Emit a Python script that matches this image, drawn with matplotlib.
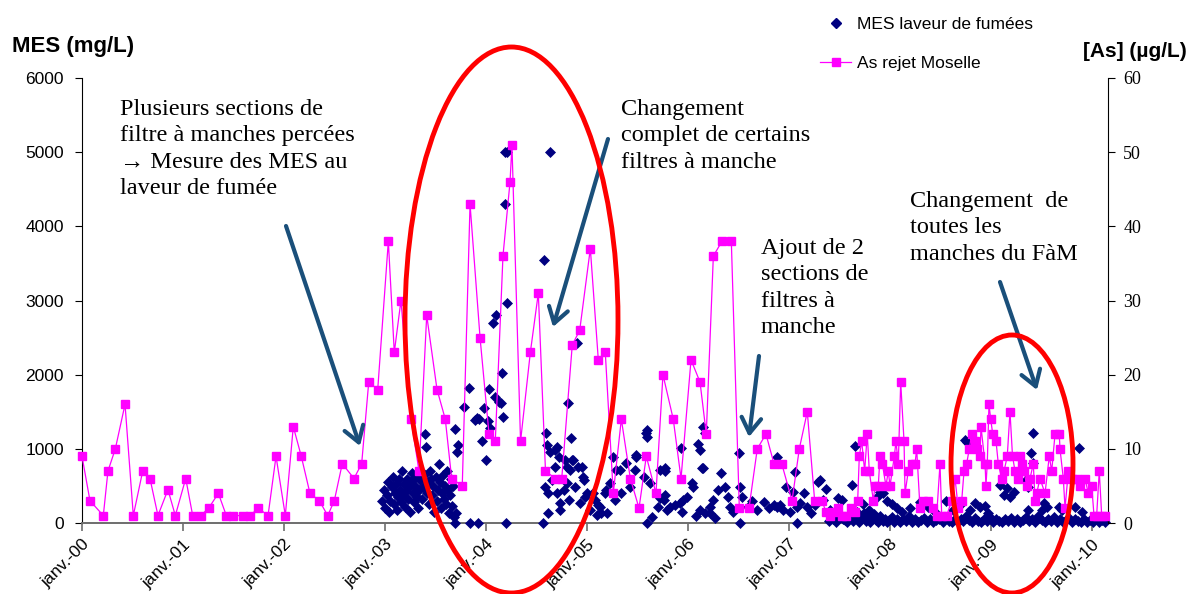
import matplotlib
matplotlib.use('Agg')
import matplotlib.pyplot as plt
from matplotlib.lines import Line2D
from matplotlib.patches import Ellipse, FancyArrowPatch

# ---------------- data ----------------
# As rejet Moselle (µg/L), secondary axis
as_year = [2000.000, 2000.079, 2000.211, 2000.257, 2000.330, 2000.426, 2000.508, 2000.601, 2000.673, 2000.752,
           2000.851, 2000.924, 2001.027, 2001.096, 2001.175, 2001.254, 2001.350, 2001.429, 2001.498, 2001.597,
           2001.663, 2001.746, 2001.842, 2001.921, 2002.013, 2002.092, 2002.171, 2002.257, 2002.350, 2002.433,
           2002.498, 2002.577, 2002.693, 2002.769, 2002.839, 2002.928, 2003.033, 2003.092, 2003.158, 2003.257,
           2003.337, 2003.413, 2003.515, 2003.597, 2003.660, 2003.765, 2003.842, 2003.941, 2004.030, 2004.092,
           2004.168, 2004.238, 2004.257, 2004.342, 2004.439, 2004.518, 2004.589, 2004.686, 2004.750, 2004.854,
           2004.928, 2005.033, 2005.112, 2005.181, 2005.260, 2005.340, 2005.429, 2005.515, 2005.587, 2005.683,
           2005.752, 2005.854, 2005.931, 2006.030, 2006.119, 2006.181, 2006.251, 2006.337, 2006.429, 2006.508,
           2006.604, 2006.686, 2006.772, 2006.851, 2006.928, 2007.030, 2007.102, 2007.181, 2007.254, 2007.327,
           2007.366, 2007.406, 2007.446, 2007.485, 2007.525, 2007.564, 2007.614, 2007.653, 2007.680, 2007.696,
           2007.720, 2007.749, 2007.775, 2007.795, 2007.835, 2007.851, 2007.884, 2007.901, 2007.924, 2007.960,
           2007.983, 2008.000, 2008.043, 2008.059, 2008.082, 2008.106, 2008.139, 2008.149, 2008.181, 2008.215,
           2008.248, 2008.264, 2008.297, 2008.330, 2008.380, 2008.429, 2008.462, 2008.495, 2008.512, 2008.561,
           2008.611, 2008.644, 2008.676, 2008.710, 2008.733, 2008.759, 2008.785, 2008.809, 2008.842, 2008.864,
           2008.891, 2008.901, 2008.941, 2008.950, 2008.963, 2008.980, 2008.997, 2009.017, 2009.050, 2009.072,
           2009.106, 2009.129, 2009.161, 2009.188, 2009.213, 2009.238, 2009.270, 2009.287, 2009.307, 2009.327,
           2009.353, 2009.386, 2009.419, 2009.436, 2009.452, 2009.485, 2009.535, 2009.577, 2009.601, 2009.634,
           2009.676, 2009.683, 2009.716, 2009.733, 2009.766, 2009.799, 2009.848, 2009.881, 2009.931, 2009.963,
           2009.997, 2010.020, 2010.046, 2010.072, 2010.096, 2010.129]
as_val = [9, 3, 1, 7, 10, 16, 1, 7, 6, 1,
          4.5, 1, 6, 1, 1, 2, 4, 1, 1, 1,
          1, 2, 1, 9, 1, 13, 9, 4, 3, 1,
          3, 8, 6, 8, 19, 18, 38, 23, 30, 14,
          7, 28, 18, 14, 6, 5, 43, 25, 12, 11,
          36, 46, 51, 11, 23, 31, 7, 6, 6, 24,
          26, 37, 22, 23, 4, 14, 6, 2, 9, 4,
          20, 14, 6, 22, 19, 12, 36, 38, 38, 2,
          2, 10, 12, 8, 8, 3, 10, 15, 3, 3,
          1.5, 1, 1.5, 2, 1, 1, 2, 1.5, 3, 9,
          11, 7, 12, 7, 3, 5, 5, 9, 8, 5,
          7, 5, 9, 11, 8, 19, 11, 4, 7, 8,
          8, 10, 2, 3, 3, 2, 1, 8, 1, 1,
          3, 6, 2, 3, 7, 8, 10, 12, 11, 10,
          9, 13, 8, 5, 8, 16, 14, 12, 11, 8,
          6, 7, 9, 15, 9, 7, 6, 9, 8, 7,
          5, 6, 8, 3, 4, 6, 4, 9, 7, 12,
          12, 10, 6, 2, 7, 6, 6, 5, 6, 4,
          5, 1, 1, 7, 1, 1]

# MES laveur de fumées (mg/L), primary axis
mes_year = [
    # 2003 cluster
    2002.97, 2002.99, 2003.00, 2003.02, 2003.03, 2003.04, 2003.05, 2003.07, 2003.08, 2003.09,
    2003.10, 2003.11, 2003.12, 2003.13, 2003.14, 2003.15, 2003.16, 2003.17, 2003.18, 2003.19,
    2003.20, 2003.21, 2003.22, 2003.23, 2003.24, 2003.25, 2003.26, 2003.27, 2003.28, 2003.29,
    2003.30, 2003.31, 2003.32, 2003.33, 2003.34, 2003.35, 2003.36, 2003.37, 2003.38, 2003.39,
    2003.40, 2003.41, 2003.42, 2003.43, 2003.44, 2003.45, 2003.46, 2003.47, 2003.48, 2003.49,
    2003.50, 2003.51, 2003.52, 2003.53, 2003.54, 2003.55, 2003.56, 2003.57, 2003.58, 2003.59,
    2003.60, 2003.61, 2003.62, 2003.63, 2003.64, 2003.65, 2003.66, 2003.67, 2003.68,
    # 2003.7 - 2004.2
    2003.69, 2003.69, 2003.70, 2003.71, 2003.72, 2003.78, 2003.83, 2003.84, 2003.89, 2003.91,
    2003.92, 2003.93, 2003.96, 2003.98, 2004.00, 2004.02, 2004.03, 2004.04, 2004.07, 2004.09,
    2004.10, 2004.13, 2004.15, 2004.16, 2004.17, 2004.19, 2004.19, 2004.20, 2004.21, 2004.21,
    # 2004.56 - 2005.8
    2004.56, 2004.57, 2004.58, 2004.59, 2004.60, 2004.61, 2004.61, 2004.63, 2004.63, 2004.65,
    2004.68, 2004.68, 2004.70, 2004.70, 2004.72, 2004.73, 2004.73, 2004.77, 2004.78, 2004.80,
    2004.80, 2004.81, 2004.82, 2004.83, 2004.84, 2004.85, 2004.86, 2004.88, 2004.90, 2004.91,
    2004.93, 2004.95, 2004.96, 2004.97, 2004.98, 2005.00, 2005.03, 2005.06, 2005.08, 2005.10,
    2005.11, 2005.13, 2005.14, 2005.18, 2005.19, 2005.20, 2005.23, 2005.26, 2005.28, 2005.29,
    2005.33, 2005.34, 2005.39, 2005.43, 2005.48, 2005.49, 2005.49, 2005.56, 2005.58, 2005.59,
    2005.59, 2005.59, 2005.62, 2005.64, 2005.70, 2005.72, 2005.72, 2005.76, 2005.77, 2005.77,
    2005.77, 2005.79,
    # 2005.8 - 2006.95
    2005.82, 2005.87, 2005.92, 2005.93, 2005.94, 2005.95, 2005.99, 2006.04, 2006.05, 2006.08,
    2006.10, 2006.12, 2006.12, 2006.14, 2006.15, 2006.15, 2006.17, 2006.17, 2006.22, 2006.22,
    2006.25, 2006.27, 2006.30, 2006.33, 2006.37, 2006.40, 2006.42, 2006.45, 2006.50, 2006.51,
    2006.51, 2006.53, 2006.59, 2006.63, 2006.68, 2006.75, 2006.80, 2006.85, 2006.88, 2006.88,
    2006.91,
    # 2007
    2006.94, 2006.97, 2007.01, 2007.04, 2007.06, 2007.08, 2007.08, 2007.11, 2007.15, 2007.18,
    2007.22, 2007.26, 2007.29, 2007.31, 2007.34, 2007.37, 2007.41, 2007.44, 2007.46, 2007.49,
    2007.52, 2007.55, 2007.58, 2007.62, 2007.65, 2007.67,
    # low band 2007.4 - 2010.15
    2007.40, 2007.43, 2007.47, 2007.50, 2007.53, 2007.57, 2007.60, 2007.63, 2007.66, 2007.69,
    2007.71, 2007.74, 2007.76, 2007.78, 2007.80, 2007.82, 2007.84, 2007.86, 2007.88, 2007.90,
    2007.93, 2007.95, 2007.97, 2007.99, 2008.02, 2008.04, 2008.07, 2008.10, 2008.13, 2008.16,
    2008.19, 2008.22, 2008.25, 2008.28, 2008.31, 2008.34, 2008.37, 2008.40, 2008.43, 2008.46,
    2008.49, 2008.52, 2008.55, 2008.58, 2008.61, 2008.64, 2008.67, 2008.70, 2008.72, 2008.75,
    2008.78, 2008.81, 2008.84, 2008.87, 2008.90, 2008.93, 2008.96, 2008.99, 2009.02, 2009.05,
    2009.08, 2009.11, 2009.14, 2009.17, 2009.20, 2009.23, 2009.26, 2009.29, 2009.32, 2009.35,
    2009.38, 2009.41, 2009.44, 2009.47, 2009.50, 2009.53, 2009.56, 2009.59, 2009.62, 2009.65,
    2009.68, 2009.71, 2009.74, 2009.77, 2009.80, 2009.83, 2009.86, 2009.89, 2009.92, 2009.95,
    2009.98, 2010.01, 2010.04, 2010.07, 2010.10, 2010.13,
    # mid values 2007.7 - 2010
    2007.73, 2007.79, 2007.87, 2007.90, 2007.93, 2007.97, 2008.02, 2008.07, 2008.12, 2008.20,
    2008.30, 2008.38, 2008.45, 2008.55, 2008.62, 2008.70, 2008.74, 2008.76, 2008.79, 2008.84,
    2008.89, 2008.94, 2008.97, 2009.09, 2009.13, 2009.16, 2009.19, 2009.23,
    2009.35, 2009.37, 2009.37, 2009.40, 2009.42, 2009.42,
    2009.50, 2009.52, 2009.55, 2009.67, 2009.70, 2009.83, 2009.87, 2009.90]
mes_val = [
    300, 450, 200, 380, 550, 150, 300, 480, 620, 260,
    400, 520, 180, 350, 600, 450, 280, 700, 380, 520,
    220, 430, 600, 330, 480, 150, 560, 680, 400, 280,
    500, 620, 350, 200, 450, 580, 700, 320, 480, 650,
    1200, 1030, 400, 550, 250, 700, 600, 380, 500, 150,
    620, 300, 450, 800, 550, 200, 400, 650, 320, 500,
    250, 700, 450, 130, 380, 600, 230, 500, 80,
    0, 1263, 130, 960, 1050, 1568, 1824, 0, 1390, 1420,
    0, 1400, 1105, 1546, 850, 1380, 1810, 1280, 2700, 1700,
    2800, 1635, 1613, 2018, 1425, 4300, 5000, 0, 5000, 2970,
    0, 3545, 490, 1217, 1050, 400, 130, 5000, 960, 580,
    990, 760, 1030, 400, 893, 175, 265, 445, 850, 535,
    760, 1613, 310, 715, 1150, 850, 850, 490, 2422, 760,
    265, 760, 625, 580, 355, 400, 175, 400, 310, 108,
    243, 220, 130, 400, 445, 130, 535, 893, 310, 715,
    715, 400, 805, 490, 715, 893, 917, 625, 1213, 1250,
    1155, 0, 535, 85, 220, 715, 333, 310, 705, 737,
    377, 175,
    220, 243, 265, 1007, 152, 310, 355, 535, 490, 90,
    1065, 985, 175, 737, 737, 1298, 1209, 130, 220, 130,
    310, 63, 445, 670, 490, 355, 220, 150, 940, 490,
    0, 355, 220, 300, 180, 280, 200, 243, 220, 893,
    243,
    175, 480, 152, 422, 690, 0, 220, 265, 400, 220,
    130, 243, 557, 580, 310, 454, 175, 60, 108, 333,
    310, 40, 90, 512, 1038, 150,
    30, 80, 20, 110, 50, 10, 70, 30, 90, 20,
    60, 140, 30, 80, 10, 50, 120, 40, 20, 90,
    30, 60, 10, 40, 80, 20, 50, 10, 60, 30,
    90, 20, 50, 10, 40, 70, 20, 50, 10, 40,
    60, 20, 80, 30, 10, 50, 20, 60, 30, 90,
    40, 20, 70, 30, 10, 50, 30, 80, 20, 60,
    30, 10, 50, 30, 70, 20, 50, 10, 40, 80,
    30, 60, 20, 90, 40, 10, 60, 30, 80, 20,
    50, 10, 40, 70, 20, 50, 30, 10, 60, 20,
    40, 10, 50, 20, 40, 10,
    250, 180, 355, 422, 400, 300, 250, 198, 150, 200,
    280, 220, 150, 300, 180, 250, 1119, 1096, 175, 265,
    220, 229, 130, 512, 377, 468, 355, 422,
    580, 490, 175, 948, 813, 1209,
    175, 265, 220, 220, 175, 220, 1007, 150]

year_ticks = list(range(2000, 2011))
year_labels = ['janv.-00', 'janv.-01', 'janv.-02', 'janv.-03', 'janv.-04', 'janv.-05',
               'janv.-06', 'janv.-07', 'janv.-08', 'janv.-09', 'janv.-10']
mes_ticks = [0, 1000, 2000, 3000, 4000, 5000, 6000]
as_ticks = [0, 10, 20, 30, 40, 50, 60]

# ---------------- figure ----------------
W, H = 1189, 594
fig = plt.figure(figsize=(W / 100, H / 100), dpi=100)
fig.patch.set_facecolor('white')


def fx(px):
    return px / W


def fy(py):
    return 1 - py / H


SANS = ['Liberation Sans', 'DejaVu Sans']
SERIF = ['Liberation Serif', 'DejaVu Serif']

L, R, T, B = 82, 1108, 78, 523
ax = fig.add_axes([fx(L), fy(B), (R - L) / W, (B - T) / H])
ax2 = ax.twinx()

ax.set_xlim(2000, 2000 + (R - L) / 101.0)
ax.set_ylim(0, 6000)
ax2.set_ylim(0, 60)

navy = '#000080'
mag = '#FF00FF'

ax.plot(mes_year, mes_val, ls='none', marker='D', markersize=5.3, color=navy,
        markeredgecolor=navy, markeredgewidth=0.5, clip_on=False, zorder=3)
ax2.plot(as_year, as_val, color=mag, lw=0.9, marker='s', markersize=5.4,
         markeredgecolor=mag, clip_on=False, zorder=3)

# spines
for a in (ax, ax2):
    a.spines['top'].set_visible(False)
    a.patch.set_visible(False)
ax.spines['left'].set_color('black')
ax.spines['bottom'].set_color('#6e6e6e')
ax.spines['bottom'].set_linewidth(1.4)
ax.spines['right'].set_visible(False)
ax2.spines['left'].set_visible(False)
ax2.spines['bottom'].set_visible(False)
ax2.spines['right'].set_color('black')

ax.set_xticks(year_ticks)
ax.set_xticklabels(year_labels, rotation=45, ha='right', va='top',
                   rotation_mode='anchor', fontsize=12.5, family=SANS)
ax.tick_params(axis='x', direction='out', length=6, color='#6e6e6e', width=1.2, pad=4)

ax.set_yticks(mes_ticks)
ax.set_yticklabels([str(v) for v in mes_ticks], fontsize=12.5, family=SANS)
ax.tick_params(axis='y', direction='out', length=5, pad=8)

ax2.set_yticks(as_ticks)
ax2.set_yticklabels([str(v) for v in as_ticks], fontsize=13, family=SERIF)
ax2.tick_params(axis='y', direction='out', length=5, pad=6)

# axis titles
fig.text(fx(12), fy(52), 'MES (mg/L)', fontsize=16, fontweight='bold', family=SANS,
         ha='left', va='baseline')
fig.text(fx(1083), fy(57), '[As] (µg/L)', fontsize=15, fontweight='bold', family=SANS,
         ha='left', va='baseline')

# legend
handles = [Line2D([], [], ls='none', marker='D', markersize=5.3, color=navy),
           Line2D([], [], color=mag, lw=0.9, marker='s', markersize=5.4)]
fig.legend(handles, ['MES laveur de fumées', 'As rejet Moselle'],
           loc='upper left', bbox_to_anchor=(fx(820), fy(17)), frameon=False,
           prop={'family': SANS, 'size': 12.5}, labelspacing=1.38,
           handlelength=1.8, handletextpad=0.35, borderpad=0, borderaxespad=0)

# annotation texts
tkw = dict(fontsize=17.5, family=SERIF, ha='left', va='top', linespacing=1.33)
fig.text(fx(120), fy(99), 'Plusieurs sections de\nfiltre à manches percées\n'
         '→ Mesure des MES au\nlaveur de fumée', **tkw)
fig.text(fx(621), fy(99), 'Changement\ncomplet de certains\nfiltres à manche', **tkw)
fig.text(fx(761), fy(238), 'Ajout de 2\nsections de\nfiltres à\nmanche', **tkw)
fig.text(fx(910), fy(191), 'Changement  de\ntoutes les\nmanches du FàM', **tkw)

# arrows
arrow_col = '#1a4f7a'
for (x0, y0), (x1, y1) in [((286, 226), (360, 446)), ((608, 139), (553, 327)),
                           ((759, 356), (749, 437)), ((1000, 282), (1037, 390))]:
    arr = FancyArrowPatch((fx(x0), fy(y0)), (fx(x1), fy(y1)), transform=fig.transFigure,
                          arrowstyle='->,head_length=0.5,head_width=0.32', mutation_scale=22,
                          lw=3, color=arrow_col, shrinkA=0, shrinkB=0)
    fig.add_artist(arr)

# red ellipses
for cx, cy, w, h in [(511.5, 320, 213, 546), (1012, 464, 122, 258)]:
    e = Ellipse((fx(cx), fy(cy)), w / W, h / H, transform=fig.transFigure,
                fill=False, edgecolor='#ff0000', lw=3.5, clip_on=False)
    fig.add_artist(e)

fig.savefig('out.png', dpi=100, facecolor='white')
